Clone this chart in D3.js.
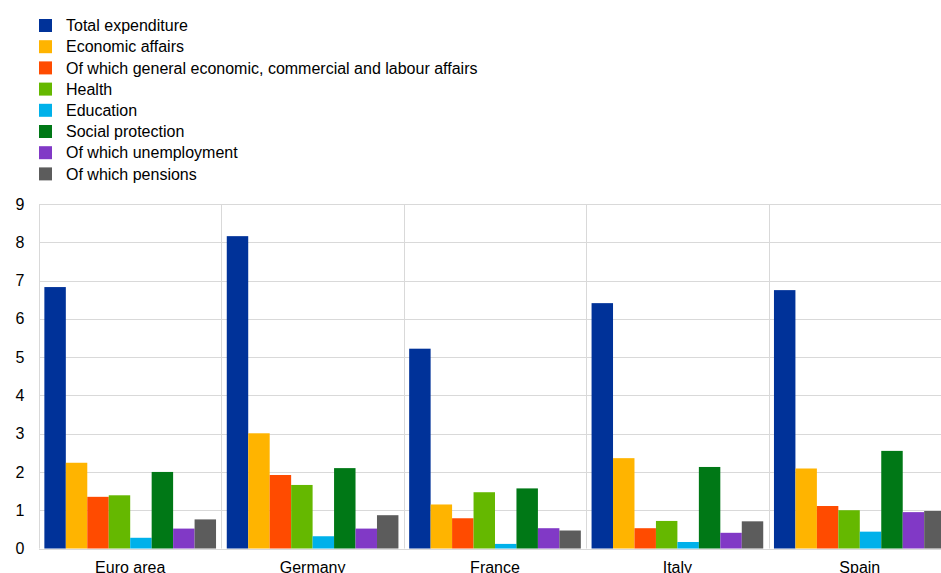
<!DOCTYPE html>
<html lang="en">
<head>
  <meta charset="UTF-8">
  <title>Expenditure by function</title>
  <style>
    body { margin: 0; background: #fff; }
    svg { display: block; font-family: "Liberation Sans", Arial, sans-serif; }
    .grid line { stroke: #d9d9d9; stroke-width: 1; }
    .y-axis text, .x-axis text { font-size: 16px; fill: #000; }
    .legend text { font-size: 16px; fill: #000; }
  </style>
</head>
<body>
  <div id="chart"></div>
  <script src="https://d3js.org/d3.v7.min.js"></script>
  <script>
    const countries = ["Euro area", "Germany", "France", "Italy", "Spain"];
    const seriesNames = [
      "Total expenditure",
      "Economic affairs",
      "Of which general economic, commercial and labour affairs",
      "Health",
      "Education",
      "Social protection",
      "Of which unemployment",
      "Of which pensions"
    ];
    const seriesColors = ["#003299", "#ffb400", "#ff4b00", "#65b800", "#00b1ea", "#007816", "#8139c6", "#5c5c5c"];
    // one row per country, in series order
    const euroArea = [6.83, 2.24, 1.35, 1.39, 0.28, 2.00, 0.52, 0.76];
    const germany  = [8.16, 3.01, 1.92, 1.66, 0.32, 2.10, 0.52, 0.87];
    const france   = [5.22, 1.15, 0.79, 1.47, 0.12, 1.57, 0.53, 0.47];
    const italy    = [6.41, 2.36, 0.53, 0.72, 0.17, 2.13, 0.41, 0.71];
    const spain    = [6.75, 2.09, 1.11, 1.00, 0.44, 2.55, 0.95, 0.98];
    const values = [euroArea, germany, france, italy, spain];
    const yTicks = [0, 1, 2, 3, 4, 5, 6, 7, 8, 9];

    const width = 941, height = 573;
    const plot = { left: 39, right: 951, top: 204, bottom: 548.5 };

    const svg = d3.select('#chart').append('svg')
      .attr('width', width)
      .attr('height', height);

    // legend
    const legend = svg.append('g').attr('class', 'legend');
    seriesNames.forEach((name, i) => {
      const y = 25.5 + i * 21.2;
      legend.append('rect')
        .attr('x', 39).attr('y', y - 6.5)
        .attr('width', 13).attr('height', 13)
        .attr('fill', seriesColors[i]);
      legend.append('text')
        .attr('x', 66).attr('y', y)
        .attr('dy', '0.35em')
        .text(name);
    });

    const x0 = d3.scaleBand()
      .domain(countries)
      .range([plot.left, plot.right])
      .padding(0);

    const x1 = d3.scaleBand()
      .domain(seriesNames)
      .range([0, x0.bandwidth()])
      .paddingInner(0)
      .paddingOuter(0.25);

    const y = d3.scaleLinear()
      .domain([0, 9])
      .range([plot.bottom, plot.top]);

    // gridlines
    const grid = svg.append('g').attr('class', 'grid');
    grid.selectAll('.h')
      .data(yTicks)
      .enter().append('line')
      .attr('x1', plot.left).attr('x2', plot.right)
      .attr('y1', d => Math.round(y(d)) + 0.5)
      .attr('y2', d => Math.round(y(d)) + 0.5);
    grid.selectAll('.v')
      .data(countries)
      .enter().append('line')
      .attr('x1', d => Math.round(x0(d)) + 0.5)
      .attr('x2', d => Math.round(x0(d)) + 0.5)
      .attr('y1', plot.top).attr('y2', plot.bottom);

    // bars
    svg.selectAll('.bar-group')
      .data(countries)
      .enter().append('g')
      .attr('class', 'bar-group')
      .attr('transform', d => `translate(${x0(d)},0)`)
      .selectAll('rect')
      .data((d, i) => values[i].map((v, j) => ({ series: seriesNames[j], value: v, color: seriesColors[j] })))
      .enter().append('rect')
      .attr('x', d => x1(d.series))
      .attr('width', x1.bandwidth())
      .attr('y', d => y(d.value))
      .attr('height', d => y(0) - y(d.value))
      .attr('fill', d => d.color);

    // axes
    const yAxis = svg.append('g')
      .attr('class', 'y-axis')
      .attr('transform', `translate(${plot.left},0)`)
      .call(d3.axisLeft(y).tickValues(yTicks).tickSize(0).tickPadding(14));
    yAxis.select('.domain').remove();
    yAxis.selectAll('text').attr('text-anchor', 'middle').attr('x', -19);

    const xAxis = svg.append('g')
      .attr('class', 'x-axis')
      .attr('transform', `translate(0,${plot.bottom})`)
      .call(d3.axisBottom(x0).tickSize(0).tickPadding(13));
    xAxis.select('.domain').remove();
  </script>
</body>
</html>
